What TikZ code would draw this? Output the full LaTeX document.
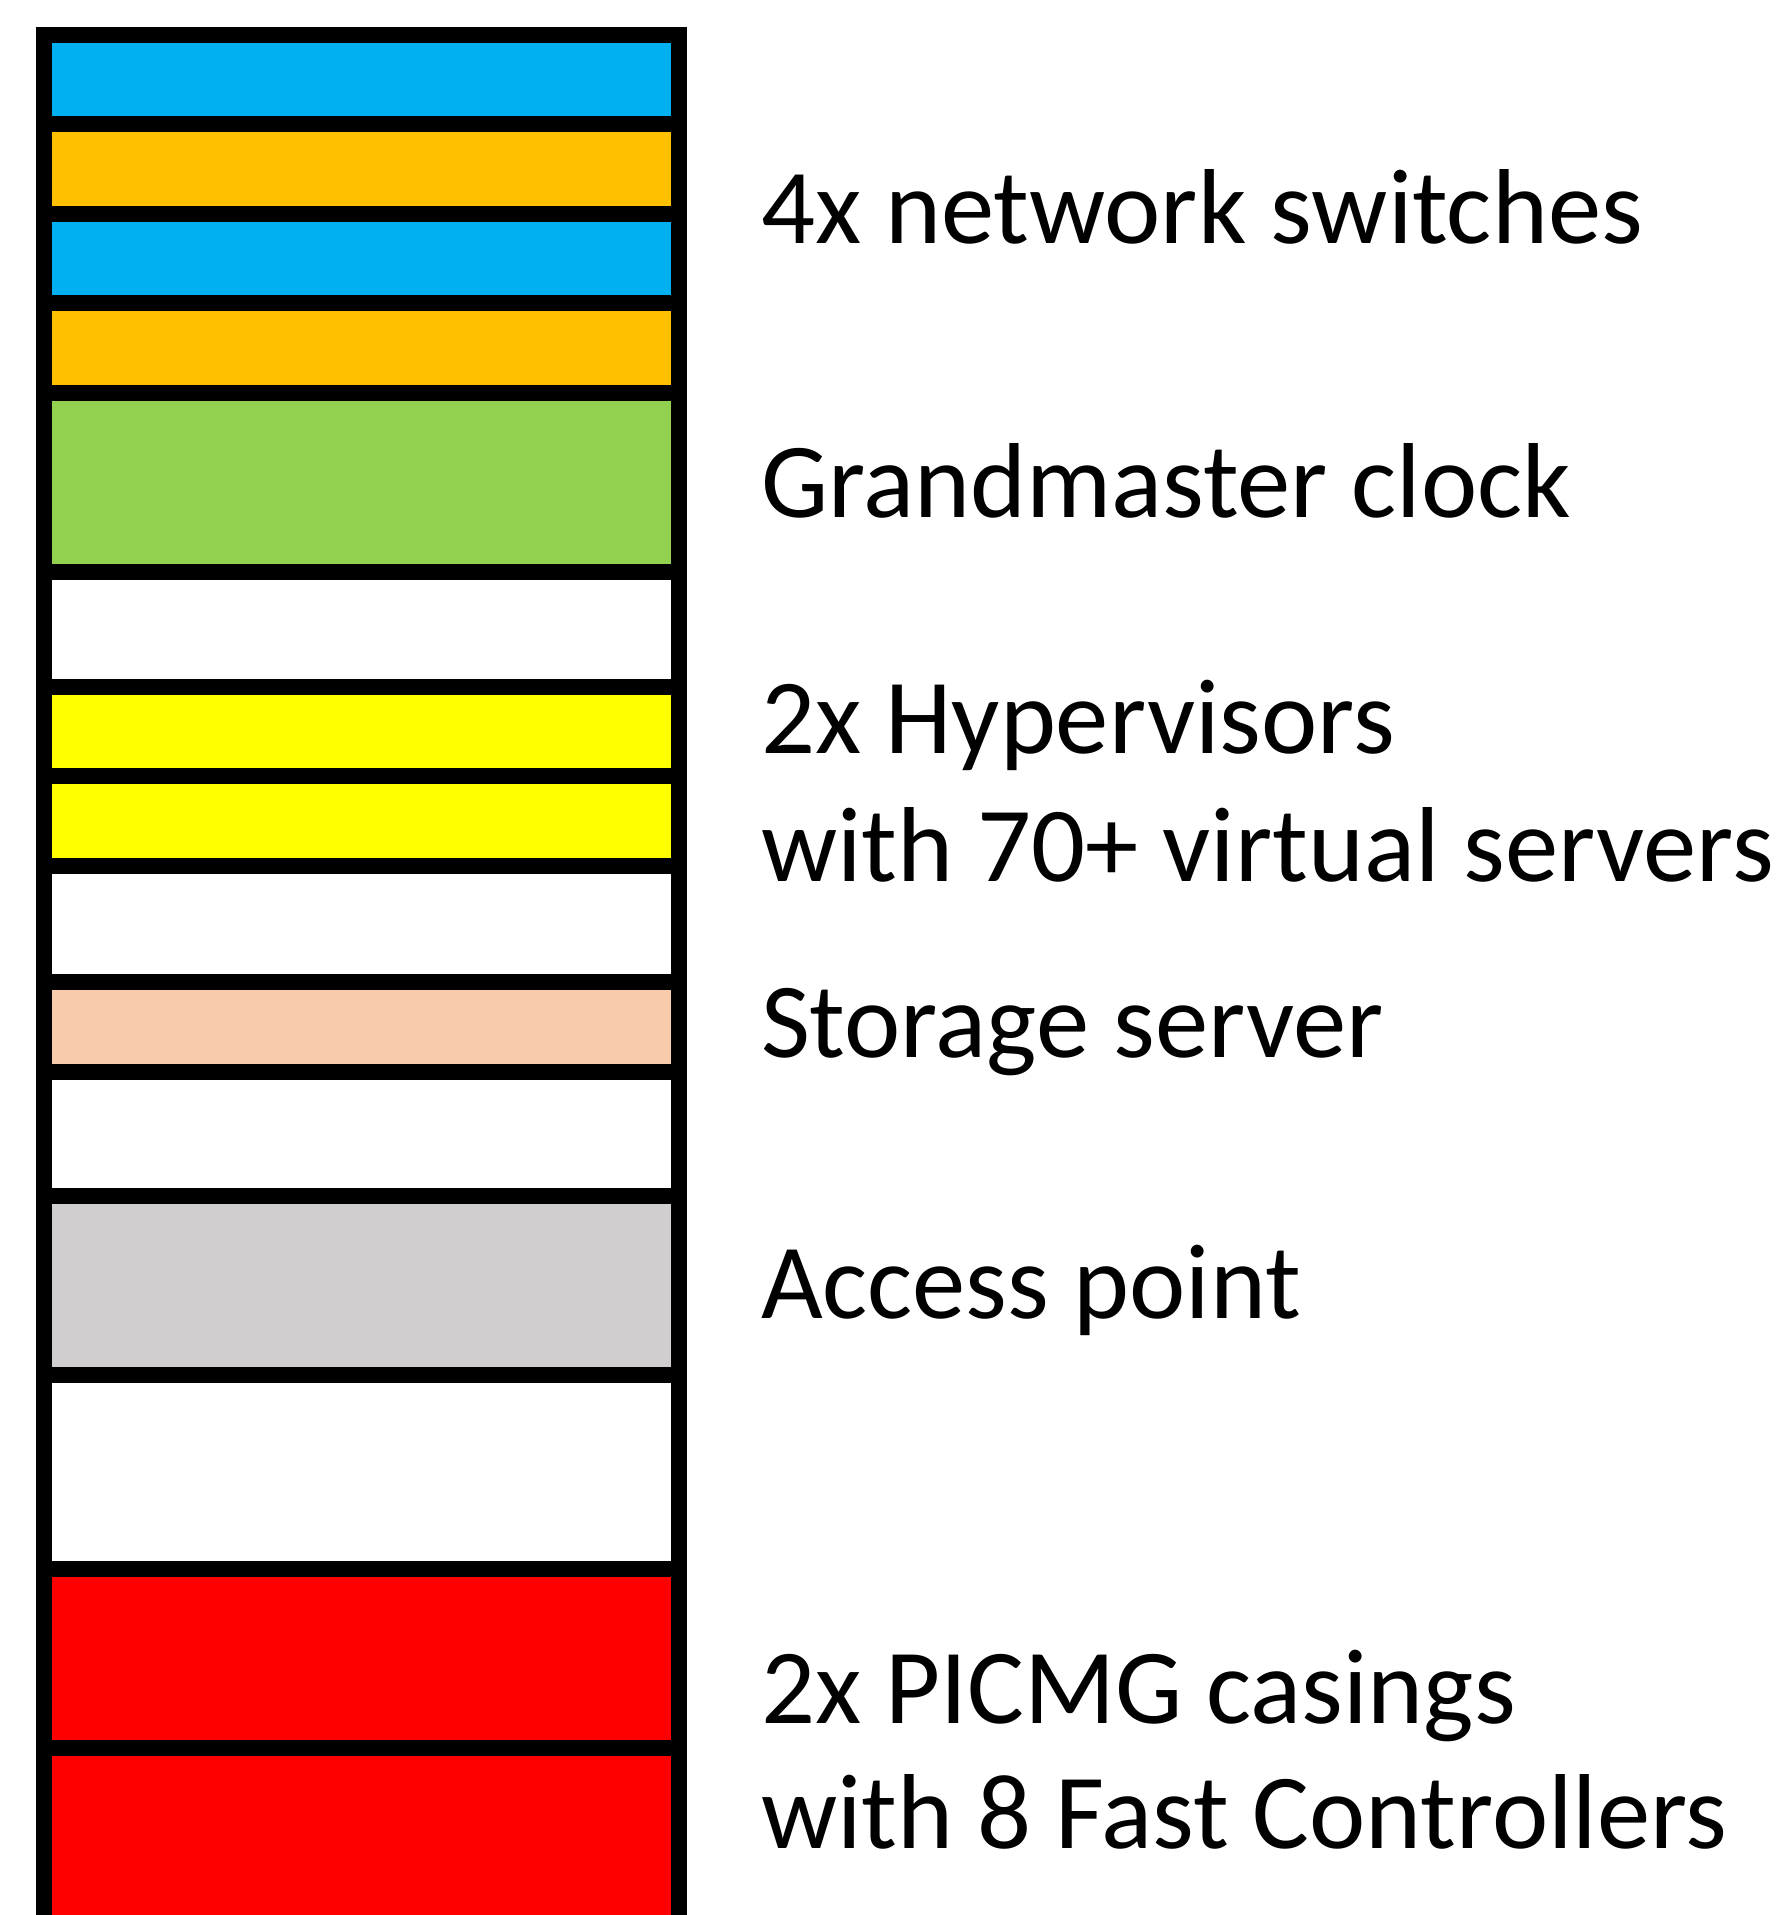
\documentclass[tikz,border=0pt]{standalone}
\usepackage{fontspec}
\setmainfont{Carlito}
\definecolor{swblue}{HTML}{00B0F0}
\definecolor{sworange}{HTML}{FFC000}
\definecolor{clkgreen}{HTML}{92D050}
\definecolor{hvyellow}{HTML}{FFFF00}
\definecolor{stpeach}{HTML}{F8CBAD}
\definecolor{apgrey}{HTML}{D0CECE}
\definecolor{fcred}{HTML}{FF0000}
\tikzset{
  slot/.style={draw=black, line width=16pt, line join=miter},
  lab/.style={anchor=base west, inner sep=0pt, outer sep=0pt,
    font=\fontsize{106.6}{126}\selectfont, text=black}
}
\begin{document}
\begin{tikzpicture}[x=1pt,y=-1pt]
\useasboundingbox (0,0) rectangle (1780,1915);
\fill[white] (0,0) rectangle (1780,1915);
\begin{scope}
\clip (0,0) rectangle (1780,1915);
\newcommand\rackslot[3]{\draw[slot, fill=#3] (43.6,#1) rectangle (678.9,#2);}
\rackslot{34.7}{124.2}{swblue}
\rackslot{124.2}{213.8}{sworange}
\rackslot{213.8}{303.2}{swblue}
\rackslot{303.2}{393.2}{sworange}
\rackslot{393.2}{572}{clkgreen}
\rackslot{572}{686.6}{white}
\rackslot{686.6}{776}{hvyellow}
\rackslot{776}{865.7}{hvyellow}
\rackslot{865.7}{982.3}{white}
\rackslot{982.3}{1072}{stpeach}
\rackslot{1072}{1196.2}{white}
\rackslot{1196.2}{1375.3}{apgrey}
\rackslot{1375.3}{1568.5}{white}
\rackslot{1568.5}{1747.7}{fcred}
\rackslot{1747.7}{1990}{fcred}
\end{scope}
\node[lab] (sw)   at (761,243.5)  {4x network switches};
\node[lab] (gm)   at (761,517)    {Grandmaster clock};
\node[lab] (hv1)  at (761,753.5)  {2x Hypervisors};
\node[lab] (hv2)  at (761,881.5)  {with 70+ virtual servers};
\node[lab] (st)   at (761,1057)   {Storage server};
\node[lab] (ap)   at (761,1318)   {Access point};
\node[lab] (pc1)  at (761,1723.3) {2x PICMG casings};
\node[lab] (pc2)  at (761,1848.6) {with 8 Fast Controllers};
\end{tikzpicture}
\end{document}
